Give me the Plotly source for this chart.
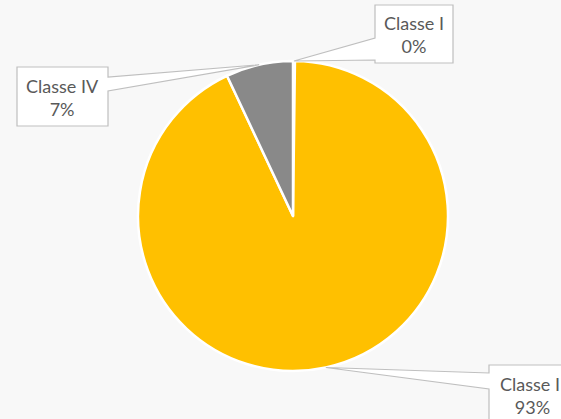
import math
import plotly.graph_objects as go

# ---- data ----
categories = ["Classe I", "Classe II", "Classe IV"]
values = [0.2, 92.8, 7.0]
colors = ["#4472C4", "#FFC000", "#898989"]

W, H = 561, 419
BG = "#F8F8F8"

# pie geometry (pixels)
cx, cy, R = 293, 216, 155

def px(x):
    return x / W

def py(y):
    return 1 - y / H

fig = go.Figure(go.Pie(
    labels=categories,
    values=values,
    sort=False,
    direction="clockwise",
    rotation=0,
    textinfo="none",
    hoverinfo="label+percent",
    marker=dict(colors=colors, line=dict(color="white", width=2.5)),
    domain=dict(x=[px(cx - R), px(cx + R)], y=[py(cy + R), py(cy - R)]),
    showlegend=False,
))

# label boxes (pixel layout): (left, top, right, bottom), wedge side, wedge y range, text centre
boxes = {
    "Classe I": dict(box=(375, 5, 453, 63), side="left", wy=(38, 60), c=(414, 35)),
    "Classe II": dict(box=(489, 365, 620, 440), side="left", wy=(373, 389), c=(532, 395)),
    "Classe IV": dict(box=(17, 67, 108, 126), side="right", wy=(77, 91), c=(62, 97)),
}

total = sum(values)
cum = 0.0
shapes = []
annotations = []
for cat, v in zip(categories, values):
    mid = (cum + v / 2) / total * 2 * math.pi
    cum += v
    tipx = cx + R * math.sin(mid)
    tipy = cy - R * math.cos(mid)
    b = boxes[cat]
    l, t, r, btm = b["box"]
    ya, yb = b["wy"]
    if b["side"] == "left":
        pts = [(l, t), (r, t), (r, btm), (l, btm), (l, yb), (tipx, tipy), (l, ya)]
    else:
        pts = [(l, t), (r, t), (r, ya), (tipx, tipy), (r, yb), (r, btm), (l, btm)]
    path = "M " + " L ".join(f"{px(x):.5f},{py(y):.5f}" for x, y in pts) + " Z"
    shapes.append(dict(type="path", xref="paper", yref="paper", path=path,
                       fillcolor="white", line=dict(color="#BFBFBF", width=1.2),
                       layer="above"))
    pct = round(v / total * 100)
    tx, ty = b["c"]
    annotations.append(dict(
        x=px(tx), y=py(ty),
        xref="paper", yref="paper", showarrow=False,
        text=f"{cat}<br>{pct}%", align="center",
        font=dict(family="Lato, Open Sans, sans-serif", size=18, color="#595959"),
        xanchor="center", yanchor="middle",
    ))

fig.update_layout(
    width=W, height=H,
    margin=dict(l=0, r=0, t=0, b=0),
    paper_bgcolor=BG, plot_bgcolor=BG,
    shapes=shapes,
    annotations=annotations,
)

fig.write_html("out.html",
               config={"displayModeBar": False},
               post_script="document.body.style.margin='0';document.body.style.padding='0';")
